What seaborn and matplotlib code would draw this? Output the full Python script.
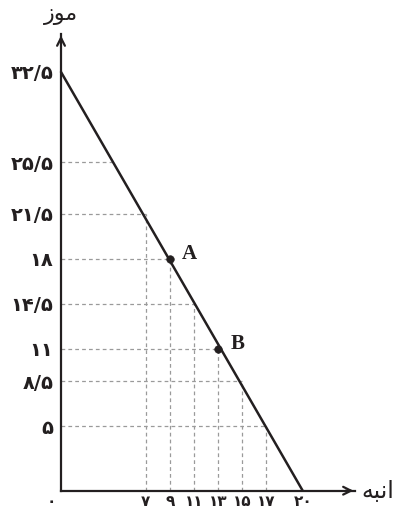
import numpy as np
import matplotlib
matplotlib.use("Agg")
import matplotlib.pyplot as plt
import seaborn as sns
import pandas as pd

# production possibilities: mango (x) vs banana (y)
ppf_x = [0, 20]
ppf_y = [32.5, 0]
pt_names = ["A", "B"]
pt_x = [9, 13]
pt_y = [18, 11]
# dashed guide corners
guide_x = [7, 9, 11, 13, 15, 17]
guide_y = [21.5, 18, 14.5, 11, 8.5, 5]
extra_y = [25.5]
xtick_vals = [7, 9, 11, 13, 15, 17, 20]
xtick_labels = ["۷", "۹", "۱۱", "۱۳", "۱۵", "۱۷", "۲۰"]
ytick_vals = [5, 8.5, 11, 14.5, 18, 21.5, 25.5, 32.5]
ytick_labels = ["۵", "۸/۵", "۱۱", "۱۴/۵", "۱۸", "۲۱/۵", "۲۵/۵", "۳۲/۵"]
xlabel = "\uFEEA\uFE92\uFEE7\uFE8D"   # انبه (shaped, visual order)
ylabel = "\uFEAF\uFEEE\uFEE3"         # موز (shaped, visual order)

sns.set_style("white")
plt.rcParams['font.family'] = ['DejaVu Sans']
ink = "#231f20"
grid_c = "#9a9a9a"

fig = plt.figure(figsize=(4.02, 5.12), dpi=100)
ax = fig.add_axes([0, 0, 1, 1])
sx = (302.7 - 61) / 20
sy = (490.7 - 72) / 32.5
ax.set_xlim(-61 / sx, (402 - 61) / sx)
ax.set_ylim(-(512 - 490.7) / sy, 32.5 + 72 / sy)

slope = (ppf_y[1] - ppf_y[0]) / (ppf_x[1] - ppf_x[0])
dash = (0, (3, 2.5))
for gx, gy in zip(guide_x, guide_y):
    ax.plot([0, gx], [gy, gy], ls=dash, color=grid_c, lw=0.9, zorder=1)
    ax.plot([gx, gx], [0, gy], ls=dash, color=grid_c, lw=0.9, zorder=1)
for gy in extra_y:
    ax.plot([0, (gy - ppf_y[0]) / slope], [gy, gy], ls=dash, color=grid_c, lw=0.9, zorder=1)

df = pd.DataFrame({"x": ppf_x, "y": ppf_y})
sns.lineplot(data=df, x="x", y="y", color=ink, lw=1.8, ax=ax, zorder=3)
pts = pd.DataFrame({"x": pt_x, "y": pt_y, "n": pt_names})
sns.scatterplot(data=pts, x="x", y="y", color=ink, s=30, edgecolor=ink, ax=ax, zorder=4)
for _, r in pts.iterrows():
    ax.text(r.x + 1.0, r.y + 0.4, r.n, fontsize=15, fontweight="bold",
            family="Liberation Serif", color=ink, va="center", ha="left")

# axes through origin
for s in ["top", "right"]:
    ax.spines[s].set_visible(False)
ax.spines["left"].set_position(("data", 0))
ax.spines["bottom"].set_position(("data", 0))
xend = (355 - 61) / sx
yend = (490.7 - 34) / sy
ax.spines["left"].set_bounds(0, yend)
ax.spines["bottom"].set_bounds(0, xend)
for s in ["left", "bottom"]:
    ax.spines[s].set_linewidth(1.6)
    ax.spines[s].set_color(ink)
ax.annotate("", xy=(xend + 0.1, 0), xytext=(xend - 1, 0),
            arrowprops=dict(arrowstyle="->", color=ink, lw=1.6, mutation_scale=14))
ax.annotate("", xy=(0, yend + 0.1), xytext=(0, yend - 1),
            arrowprops=dict(arrowstyle="->", color=ink, lw=1.6, mutation_scale=14))

ax.set_xticks(xtick_vals, xtick_labels)
ax.set_yticks(ytick_vals, ytick_labels)
ax.tick_params(direction="inout", length=5, width=1, color=ink, labelcolor=ink)
ax.tick_params(axis="y", labelsize=14, pad=3)
ax.tick_params(axis="x", labelsize=11, pad=0)
for t in ax.get_xticklabels() + ax.get_yticklabels():
    t.set_fontweight("bold")
ax.set_xlabel("")
ax.set_ylabel("")

ax.text(-0.45, -0.25, "۰", ha="right", va="top", fontsize=11, color=ink, fontweight="bold")
ax.text(xend + 0.55, 0, xlabel, ha="left", va="center", fontsize=17, color=ink)
ax.text(0, yend + 0.7, ylabel, ha="center", va="bottom", fontsize=16, color=ink)

fig.savefig("out.png", dpi=100)
